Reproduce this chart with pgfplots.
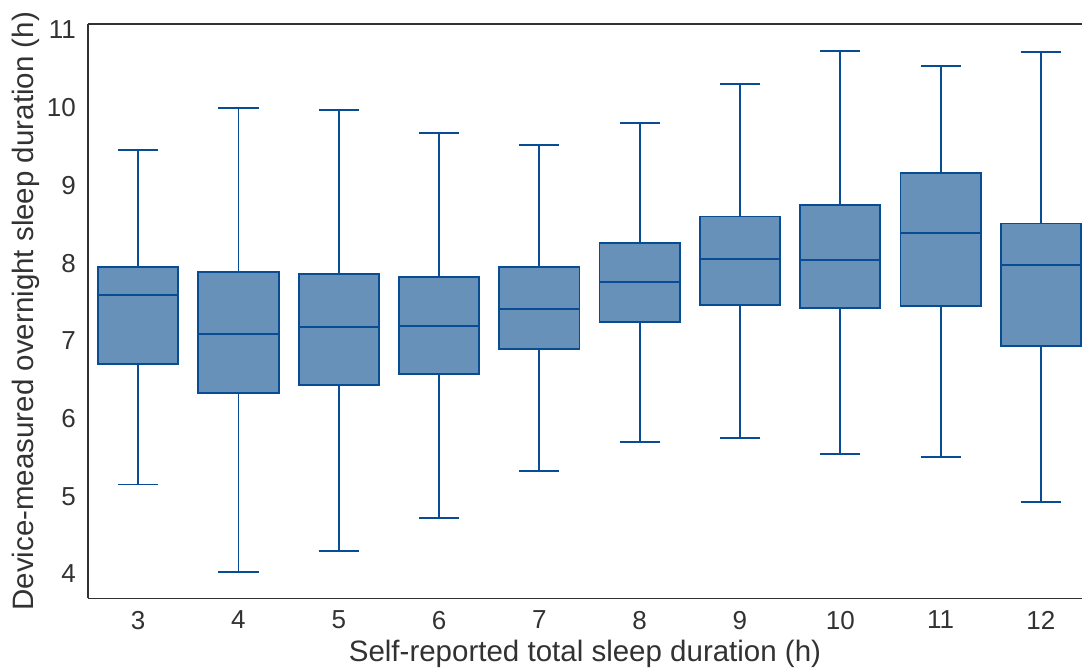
\documentclass[border=0pt]{standalone}
\usepackage{fontspec}
\setmainfont{Liberation Sans}
\usepackage{pgfplots}
\pgfplotsset{compat=1.18}
\usepgfplotslibrary{statistics}
\definecolor{boxfill}{RGB}{104,145,186}
\definecolor{boxedge}{RGB}{8,76,148}
\definecolor{spine}{RGB}{50,50,50}
\begin{document}
\begin{tikzpicture}
\begin{axis}[
  at={(0,0)}, anchor=south west,
  scale only axis,
  width=994pt, height=574pt,
  xmin=2.5, xmax=12.41,
  ymin=3.686, ymax=11.073,
  axis x line*=box, axis y line*=left,
  axis line style={spine, line width=1.6pt},
  xtick={3,4,5,6,7,8,9,10,11,12},
  ytick={4,5,6,7,8,9,10,11},
  major tick length=0pt,
  /pgf/number format/assume math mode=true,
  every tick label/.append style={inner sep=0pt, text=spine, font=\fontsize{26}{31}\selectfont},
  xticklabel style={yshift=-12.5pt},
  yticklabel style={xshift=-12pt},
  xlabel={Self-reported total sleep duration (h)},
  ylabel={Device-measured overnight sleep duration (h)},
  xlabel style={at={(rel axis cs:0.5,0)}, anchor=base, yshift=-63pt, inner sep=0pt, text=spine, font=\fontsize{29.5}{35}\selectfont},
  ylabel style={at={(rel axis cs:0,0.5)}, anchor=base, yshift=54.5pt, inner sep=0pt, text=spine, font=\fontsize{29.5}{35}\selectfont},
  boxplot/draw direction=y,
  boxplot/box extend=0.8,
  boxplot/whisker extend=0.4,
  clip=false,
]
\addplot[boxplot prepared={draw position=3, lower whisker=5.15, lower quartile=6.70, median=7.59, upper quartile=7.95, upper whisker=9.46}, draw=boxedge, fill=boxfill, line width=1.9pt] coordinates {};
\addplot[boxplot prepared={draw position=4, lower whisker=4.02, lower quartile=6.33, median=7.09, upper quartile=7.89, upper whisker=10.00}, draw=boxedge, fill=boxfill, line width=1.9pt] coordinates {};
\addplot[boxplot prepared={draw position=5, lower whisker=4.30, lower quartile=6.43, median=7.18, upper quartile=7.86, upper whisker=9.97}, draw=boxedge, fill=boxfill, line width=1.9pt] coordinates {};
\addplot[boxplot prepared={draw position=6, lower whisker=4.72, lower quartile=6.57, median=7.19, upper quartile=7.82, upper whisker=9.67}, draw=boxedge, fill=boxfill, line width=1.9pt] coordinates {};
\addplot[boxplot prepared={draw position=7, lower whisker=5.32, lower quartile=6.89, median=7.41, upper quartile=7.95, upper whisker=9.52}, draw=boxedge, fill=boxfill, line width=1.9pt] coordinates {};
\addplot[boxplot prepared={draw position=8, lower whisker=5.70, lower quartile=7.24, median=7.76, upper quartile=8.26, upper whisker=9.80}, draw=boxedge, fill=boxfill, line width=1.9pt] coordinates {};
\addplot[boxplot prepared={draw position=9, lower whisker=5.75, lower quartile=7.46, median=8.05, upper quartile=8.60, upper whisker=10.31}, draw=boxedge, fill=boxfill, line width=1.9pt] coordinates {};
\addplot[boxplot prepared={draw position=10, lower whisker=5.54, lower quartile=7.42, median=8.04, upper quartile=8.75, upper whisker=10.73}, draw=boxedge, fill=boxfill, line width=1.9pt] coordinates {};
\addplot[boxplot prepared={draw position=11, lower whisker=5.50, lower quartile=7.45, median=8.39, upper quartile=9.16, upper whisker=10.54}, draw=boxedge, fill=boxfill, line width=1.9pt] coordinates {};
\addplot[boxplot prepared={draw position=12, lower whisker=4.92, lower quartile=6.93, median=7.97, upper quartile=8.51, upper whisker=10.72}, draw=boxedge, fill=boxfill, line width=1.9pt] coordinates {};
\end{axis}
\pgfresetboundingbox
\path[use as bounding box] (-88pt,-71.7pt) rectangle (994pt,598.3pt);
\end{tikzpicture}
\end{document}
